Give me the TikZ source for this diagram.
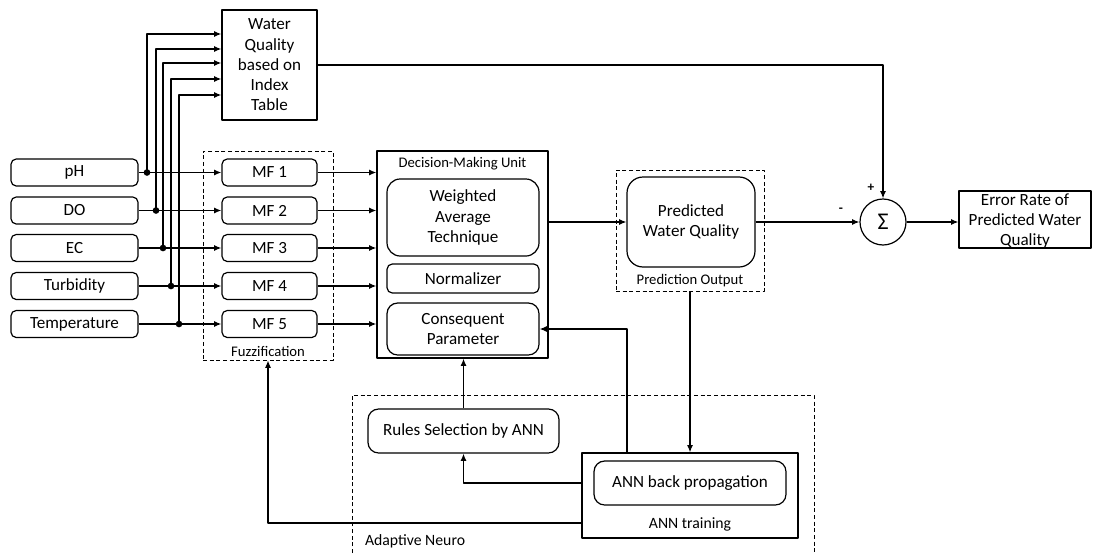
\documentclass[tikz,border=0pt]{standalone}
\usepackage{fontspec}
\setmainfont{Carlito}
\usetikzlibrary{arrows.meta}
\begin{document}
\begin{tikzpicture}[x=0.75pt, y=-0.75pt, line join=round, line width=0.9pt, >={Latex[length=5.5pt,width=4.5pt]},
	font=\fontsize{12.8}{15.2}\selectfont,
	sqbox/.style={draw, inner sep=0pt, align=center},
	rndbox/.style={sqbox, rounded corners=4pt},
	dshbox/.style={draw, densely dashed, line width=0.6pt, inner sep=0pt},
	lblsmall/.style={font=\fontsize{11}{13}\selectfont},
	lblmid/.style={font=\fontsize{11.8}{14}\selectfont},
	jdot/.style={circle, fill, inner sep=0pt, minimum size=5pt}]
	\useasboundingbox (0,0) rectangle (1094,553);
	% fuzzification
	\node[dshbox, minimum width=97.5pt, minimum height=156.8pt] (fz) at (268,255.5) {};
	\node[lblsmall] (fzl) at (268,351) {Fuzzification};
	\node[sqbox, minimum width=71.3pt, minimum height=82.5pt] (wq) at (269.5,65) {Water\\Quality\\based on\\Index\\Table};
	% decision unit
	\node[sqbox, minimum width=128.3pt, minimum height=155.3pt] (dmu) at (462.5,254.5) {};
	\node[lblsmall] (dmul) at (462.5,164) {Decision-Making Unit};
	\node[rndbox, rounded corners=10pt, minimum width=114pt, minimum height=57.8pt] (wat) at (463,217.5) {Weighted\\Average\\Technique};
	\node[rndbox, minimum width=114pt, minimum height=21.8pt] (nor) at (463,278.5) {Normalizer};
	\node[rndbox, rounded corners=8pt, minimum width=114pt, minimum height=39pt] (cp) at (463,329) {Consequent\\Parameter};
	% inputs
	\foreach \i/\t/\y/\xd/\ya in {1/pH/172.5/147/34, 2/DO/210.5/156/49, 3/EC/248/163/63, 4/Turbidity/286/171/79, 5/Temperature/324/179/95} {
		\node[rndbox, minimum width=95.3pt, minimum height=20.3pt] (in\i) at (74.5,\y) {\t};
		\node[rndbox, minimum width=71.3pt, minimum height=20.3pt] (mf\i) at (269.5,\y) {MF \i};
		\draw[->] (in\i) -- (mf\i);
		\draw[->] (mf\i) -- (mf\i -| dmu.west);
		\node[jdot] (j\i) at (in\i -| \xd,0) {};
		\draw[->] (j\i.center) |- (wq.west |- 0,\ya);
	}
	% prediction
	\node[dshbox, minimum width=111pt, minimum height=90.8pt] (po) at (690,230.5) {};
	\node[rndbox, rounded corners=12pt, minimum width=96pt, minimum height=67.5pt] (pwq) at (691,222) {Predicted\\Water Quality};
	\node[lblsmall] (pol) at (690,281) {Prediction Output};
	\node[circle, draw, minimum size=34.5pt, inner sep=0pt, font=\fontsize{18}{18}\selectfont] (sig) at (883,222) {Σ};
	\node[sqbox, minimum width=99pt, minimum height=42.8pt] (err) at (1025,219.5) {};
	\node[align=center, inner sep=0pt] (errl) at (1025,221) {Error Rate of\\Predicted Water\\Quality};
	\node[font=\bfseries] (pl) at (871,188) {+};
	\node[font=\bfseries] (mn) at (841,210) {-};
	\draw[->] (dmu.east |- pwq) -- (pwq.west);
	\draw[->] (pwq) -- (sig);
	\draw[->] (wq.east) -| (sig.north);
	\draw[->] (sig) -- (sig -| err.west);
	% adaptive neuro
	\draw[densely dashed, line width=0.6pt] (352,553) |- (814,395) -- (814,553);
	\node[lblmid, anchor=west] (anl) at (360,541) {Adaptive Neuro};
	\node[sqbox, minimum width=162pt, minimum height=63.8pt] (annt) at (690,495.5) {};
	\node[rndbox, rounded corners=8pt, minimum width=144pt, minimum height=33pt] (bp) at (690,483) {ANN back propagation};
	\node[lblmid] (anntl) at (690,524) {ANN training};
	\node[rndbox, rounded corners=8pt, minimum width=143.3pt, minimum height=33pt] (rs) at (463.5,431) {Rules Selection by ANN};
	\draw[->] (po.south) -- (annt.north -| po.south);
	\draw[->] (annt.north -| 627,0) |- (cp.east);
	\draw[->] (rs.north) -- (rs.north |- dmu.south);
	\draw[->] (annt.west |- 0,483) -| (rs.south);
	\draw[->] (annt.west |- 0,523) -| (fz.south);
\end{tikzpicture}
\end{document}
